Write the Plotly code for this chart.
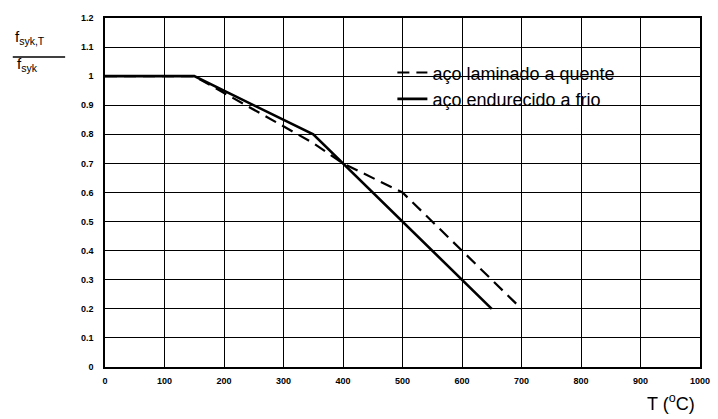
import plotly.graph_objects as go

# temperature (deg C) and strength reduction factor f_syk,T / f_syk
temp_hot = [0, 150, 350, 400, 500, 600, 700]
ratio_hot = [1.0, 1.0, 0.77, 0.7, 0.6, 0.4, 0.2]

temp_cold = [0, 150, 350, 650]
ratio_cold = [1.0, 1.0, 0.8, 0.2]

x_ticks = [0, 100, 200, 300, 400, 500, 600, 700, 800, 900, 1000]
y_ticks = [0, 0.1, 0.2, 0.3, 0.4, 0.5, 0.6, 0.7, 0.8, 0.9, 1, 1.1, 1.2]
y_tick_text = ["0", "0.1", "0.2", "0.3", "0.4", "0.5", "0.6", "0.7", "0.8", "0.9", "1", "1.1", "1.2"]

FONT = "Liberation Sans, Arial, sans-serif"

fig = go.Figure()

fig.add_trace(go.Scatter(
    x=temp_hot, y=ratio_hot, mode="lines",
    name="aço laminado a quente",
    line={"color": "black", "width": 2.2, "dash": "12px,7px"},
))
fig.add_trace(go.Scatter(
    x=temp_cold, y=ratio_cold, mode="lines",
    name="aço endurecido a frio",
    line={"color": "black", "width": 2.6},
))

# white patch behind the legend, over the grid
fig.add_shape(
    type="rect", xref="paper", yref="paper",
    x0=0.412, x1=0.944, y0=0.70, y1=0.874,
    fillcolor="white", line={"width": 0}, layer="between",
)

# y axis title as a fraction
fig.add_annotation(
    text="f<sub>syk,T</sub>", xref="paper", yref="paper",
    x=-0.155, y=0.910, xanchor="left", yanchor="bottom", showarrow=False,
    font={"family": FONT, "size": 15, "color": "black"},
)
fig.add_shape(
    type="line", xref="paper", yref="paper",
    x0=-0.155, x1=-0.067, y0=0.888, y1=0.888,
    line={"color": "black", "width": 1.5},
)
fig.add_annotation(
    text="f<sub>syk</sub>", xref="paper", yref="paper",
    x=-0.151, y=0.900, xanchor="left", yanchor="top", showarrow=False,
    font={"family": FONT, "size": 15, "color": "black"},
)
fig.add_annotation(
    text="T (<sup>o</sup>C)", xref="paper", yref="paper",
    x=0.995, y=-0.140, showarrow=False,
    font={"family": FONT, "size": 18, "color": "black"},
)

fig.update_layout(
    width=710, height=411,
    margin={"l": 97, "r": 18, "t": 5, "b": 52},
    paper_bgcolor="white", plot_bgcolor="white",
    font={"family": FONT, "color": "black"},
    showlegend=True,
    legend={
        "x": 0.483, "y": 0.896, "xanchor": "left", "yanchor": "top",
        "bgcolor": "rgba(0,0,0,0)",
        "font": {"family": FONT, "size": 18, "color": "black"},
    },
)

fig.update_xaxes(
    range=[0, 1000], tickvals=x_ticks,
    showgrid=True, gridcolor="black", gridwidth=1.3,
    showline=True, linecolor="black", linewidth=1.5, mirror=True,
    zeroline=False, ticks="", ticklabelstandoff=4,
    tickfont={"family": FONT, "size": 9, "color": "black", "weight": "bold"},
)
fig.update_yaxes(
    range=[0, 1.2], tickvals=y_ticks, ticktext=y_tick_text,
    showgrid=True, gridcolor="black", gridwidth=1.3,
    showline=True, linecolor="black", linewidth=1.5, mirror=True,
    zeroline=False, ticks="", ticklabelstandoff=8,
    tickfont={"family": FONT, "size": 9, "color": "black", "weight": "bold"},
)

fig.write_html("out.html")
